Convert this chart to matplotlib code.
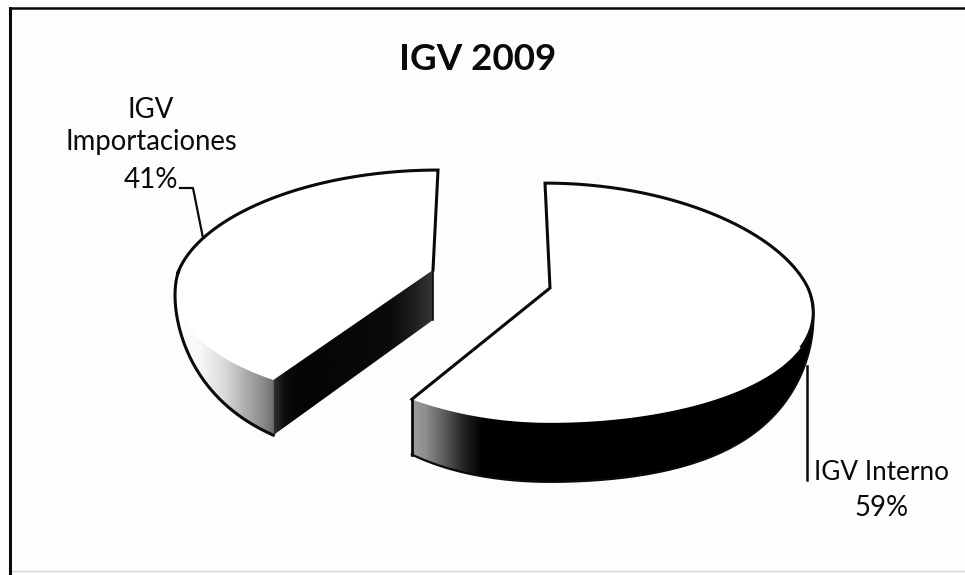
import matplotlib
matplotlib.use("Agg")
import matplotlib.pyplot as plt
from matplotlib.patches import Polygon
import numpy as np

title = "IGV 2009"
labels = ["IGV Interno", "IGV\nImportaciones"]
shares = [59, 41]

INK = "#0a0a0a"


def project(t, cx, cy, rx, k, p, px_left, px_right, lean):
    # t is degrees clockwise from 12 o'clock on the flat pie
    u = np.sin(np.radians(t))
    v = -np.cos(np.radians(t))
    px = np.where(u < 0, px_left, px_right)
    x = cx + rx * u / (1 - px * v) + lean * np.minimum(v, 0)
    y = cy + k * v / (1 - p * v)
    return x, y, v


def wall_depth(v):
    v = np.maximum(v, 0)
    return 59 * v * v * (3 - 2 * v)


def shade(ax, xs, ys, grid_x, grey):
    # horizontal grey ramp clipped to a polygon
    poly = Polygon(np.c_[xs, ys], closed=True, fc="none", ec="none", transform=ax.transData)
    ax.add_patch(poly)
    ramp = np.linspace(min(xs), max(xs), 400)
    img = np.interp(ramp, grid_x, grey)[None, :]
    im = ax.imshow(img, extent=[ramp[0], ramp[-1], max(ys), min(ys)], cmap="gray", vmin=0, vmax=1,
                   aspect="auto", zorder=3, interpolation="bilinear")
    im.set_clip_path(poly)


fig = plt.figure(figsize=(9.65, 5.75), dpi=100, facecolor="#fdfdfd")
ax = fig.add_axes([0, 0, 1, 1])
ax.axis("off")

split = 360 * shares[0] / sum(shares)

# right slice, starts at 12 o'clock
geo = dict(cx=550, cy=288, rx=258, k=118, p=0.125, px_left=0, px_right=0.2, lean=5)
t = np.linspace(0, split, 500)
x, y, v = project(t, **geo)
ax.fill(np.r_[geo["cx"], x], np.r_[geo["cy"], y], color="white", zorder=2)

front = v > 0
wx, wy, wd = x[front], y[front], wall_depth(v[front])
shade(ax, np.r_[wx, wx[::-1]], np.r_[wy, (wy + wd)[::-1]],
      [411, 425, 445, 462, 482, 820], [0.62, 0.55, 0.35, 0.15, 0.0, 0.0])

seen = t < 118
ax.plot(np.r_[x[-1], geo["cx"], x[seen]], np.r_[y[-1], geo["cy"], y[seen]], color=INK, lw=2.2, zorder=4,
        solid_joinstyle="miter")
ax.plot([x[-1], x[-1]], [y[-1], y[-1] + wall_depth(v[-1])], color=INK, lw=2.0, zorder=4)
ax.plot(wx, wy + wd, color=INK, lw=1.6, zorder=4)

# left slice, pulled away to the upper left
geo = dict(cx=433, cy=270, rx=254, k=114.4, p=0.1445, px_left=0.175, px_right=0, lean=-5)
t = np.linspace(split, 360, 400)
x, y, v = project(t, **geo)
ax.fill(np.r_[geo["cx"], x], np.r_[geo["cy"], y], color="white", zorder=2)

front = v > 0
wx, wy, wd = x[front], y[front], wall_depth(v[front])
shade(ax, np.r_[wx, wx[::-1]], np.r_[wy, (wy + wd)[::-1]],
      [176, 200, 225, 245, 262, 276], [1.0, 0.97, 0.85, 0.68, 0.55, 0.4])

# cut face below the front edge of the slice
cut_x = [x[0], geo["cx"], geo["cx"], x[0]]
cut_y = [y[0], geo["cy"], geo["cy"] + 50, y[0] + wall_depth(v[0])]
shade(ax, cut_x, cut_y, [272, 285, 300, 390, 415, 433], [0.22, 0.05, 0.02, 0.04, 0.12, 0.22])

upper = v <= 0.02
ax.plot(np.r_[x[upper], geo["cx"]], np.r_[y[upper], geo["cy"]], color=INK, lw=2.2, zorder=4,
        solid_joinstyle="miter")
ax.plot([geo["cx"], geo["cx"]], [geo["cy"], geo["cy"] + 50], color=INK, lw=1.2, zorder=4)
ax.plot(np.r_[x[upper][0], wx[::-1]], np.r_[y[upper][0], (wy + wd)[::-1]], color=INK, lw=2.2, zorder=4)

# leader lines
ax.plot([180, 193, 203], [188, 188, 238], color=INK, lw=1.6, zorder=5)
ax.plot([807, 807], [366, 480], color=INK, lw=1.8, zorder=5)

# scanned frame, no right edge in the scan
ax.plot([10, 10], [8, 574], color=INK, lw=2.2, zorder=5)
ax.plot([10, 965], [8, 8], color=INK, lw=1.8, zorder=5)
ax.plot([10, 965], [571, 571], color="#d8d8d8", lw=1.0, zorder=1)

font = "Lato"
ax.text(478, 60, title, ha="center", va="center", fontsize=26.5, fontweight="bold", family=font, color=INK)
ax.text(151, 126, labels[1], ha="center", va="center", fontsize=19.8, family=font, color=INK, linespacing=1.3)
ax.text(151, 180, f"{shares[1]}%", ha="center", va="center", fontsize=20, family=font, color=INK)
ax.text(881, 472, labels[0], ha="center", va="center", fontsize=18.8, family=font, color=INK)
ax.text(882, 508, f"{shares[0]}%", ha="center", va="center", fontsize=19.8, family=font, color=INK)

ax.set_xlim(0, 965)
ax.set_ylim(575, 0)

fig.savefig("out.png", dpi=100, facecolor=fig.get_facecolor())
